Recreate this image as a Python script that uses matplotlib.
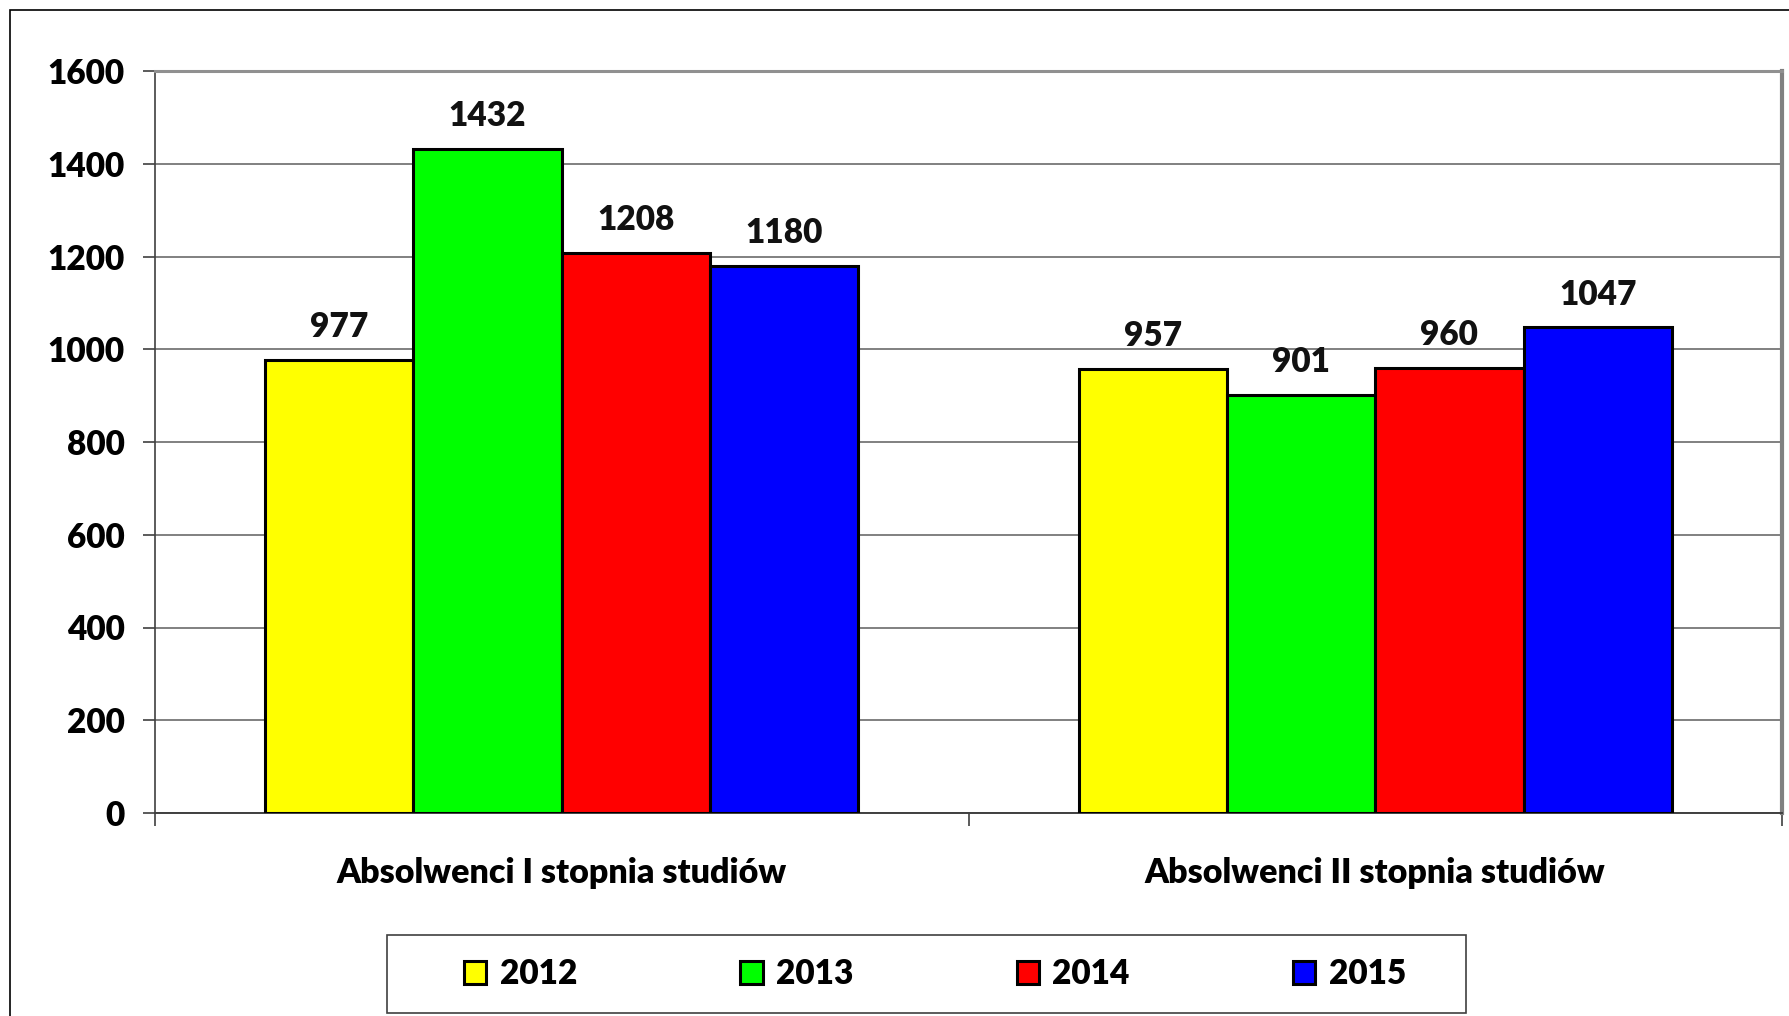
import matplotlib
matplotlib.use("Agg")
import matplotlib.pyplot as plt
from matplotlib.patches import Rectangle
import numpy as np

# ============================================
# Data
# ============================================
categories = ["Absolwenci I stopnia studiów", "Absolwenci II stopnia studiów"]
years = ["2012", "2013", "2014", "2015"]
values_2012 = [977, 957]
values_2013 = [1432, 901]
values_2014 = [1208, 960]
values_2015 = [1180, 1047]
series = [values_2012, values_2013, values_2014, values_2015]
colors = ["#ffff00", "#00ff00", "#ff0000", "#0000ff"]
y_ticks = [0, 200, 400, 600, 800, 1000, 1200, 1400, 1600]

WEIGHT = "heavy"
plt.rcParams["font.family"] = ["Lato", "DejaVu Sans"]
plt.rcParams["font.weight"] = WEIGHT

W, H = 1789, 1016
fig = plt.figure(figsize=(W / 100, H / 100), dpi=100)

# outer chart frame (cut off on right and bottom)
fig.patches.append(Rectangle((10 / W, -0.1), 1.2, 1 - 10 / H + 0.1,
                             transform=fig.transFigure, fill=False,
                             edgecolor="black", linewidth=1.2, zorder=0))

ax = fig.add_axes([155 / W, 203 / H, (1782 - 155) / W, (813 - 71) / H])

x = np.arange(len(categories))
bar_w = 0.729 / len(years)
offsets = (np.arange(len(years)) - (len(years) - 1) / 2) * bar_w

for i, (year, vals) in enumerate(zip(years, series)):
    bars = ax.bar(x + offsets[i], vals, width=bar_w, color=colors[i],
                  edgecolor="black", linewidth=2.2, label=year, zorder=3)
    for b, v in zip(bars, vals):
        ax.annotate(str(v), (b.get_x() + b.get_width() / 2, v),
                    xytext=(0, 16.5), textcoords="offset points",
                    ha="center", va="baseline", fontsize=24,
                    fontweight=WEIGHT, color="#111111")

ax.set_ylim(0, 1600)
ax.set_xlim(-0.5, len(categories) - 0.5)
ax.set_yticks(y_ticks)
ax.set_yticklabels([str(t) for t in y_ticks], fontsize=24, fontweight=WEIGHT)
ax.tick_params(axis="y", length=9, width=1.2, color="#404040", pad=13)

ax.set_xticks(np.arange(len(categories) + 1) - 0.5)
ax.set_xticklabels([])
ax.tick_params(axis="x", length=9, width=1.2, color="#404040")
for xi, cat in zip(x, categories):
    ax.text(xi, -60 / 742, cat, transform=ax.get_xaxis_transform(),
            ha="center", va="center", fontsize=24.5, fontweight=WEIGHT)

ax.grid(axis="y", color="#808080", linewidth=1.4, zorder=0)
ax.set_axisbelow(True)
ax.spines["left"].set_color("#404040")
ax.spines["bottom"].set_color("#404040")
ax.spines["left"].set_linewidth(1.2)
ax.spines["bottom"].set_linewidth(1.4)
ax.spines["top"].set_color("#909090")
ax.spines["top"].set_linewidth(2.2)
ax.spines["right"].set_color("#808080")
ax.spines["right"].set_linewidth(3)

# legend box
fig.patches.append(Rectangle((387 / W, (H - 1013) / H), (1466 - 387) / W, 78 / H,
                             transform=fig.transFigure, fill=False,
                             edgecolor="#404040", linewidth=1.2))
leg = fig.legend(loc="center", bbox_to_anchor=(935 / W, (H - 974) / H),
                 ncol=4, frameon=False, fontsize=24,
                 handlelength=0.67, handleheight=0.67, handletextpad=0.4,
                 columnspacing=4.9)
for t in leg.get_texts():
    t.set_fontweight(WEIGHT)

fig.savefig("out.png", dpi=100)
